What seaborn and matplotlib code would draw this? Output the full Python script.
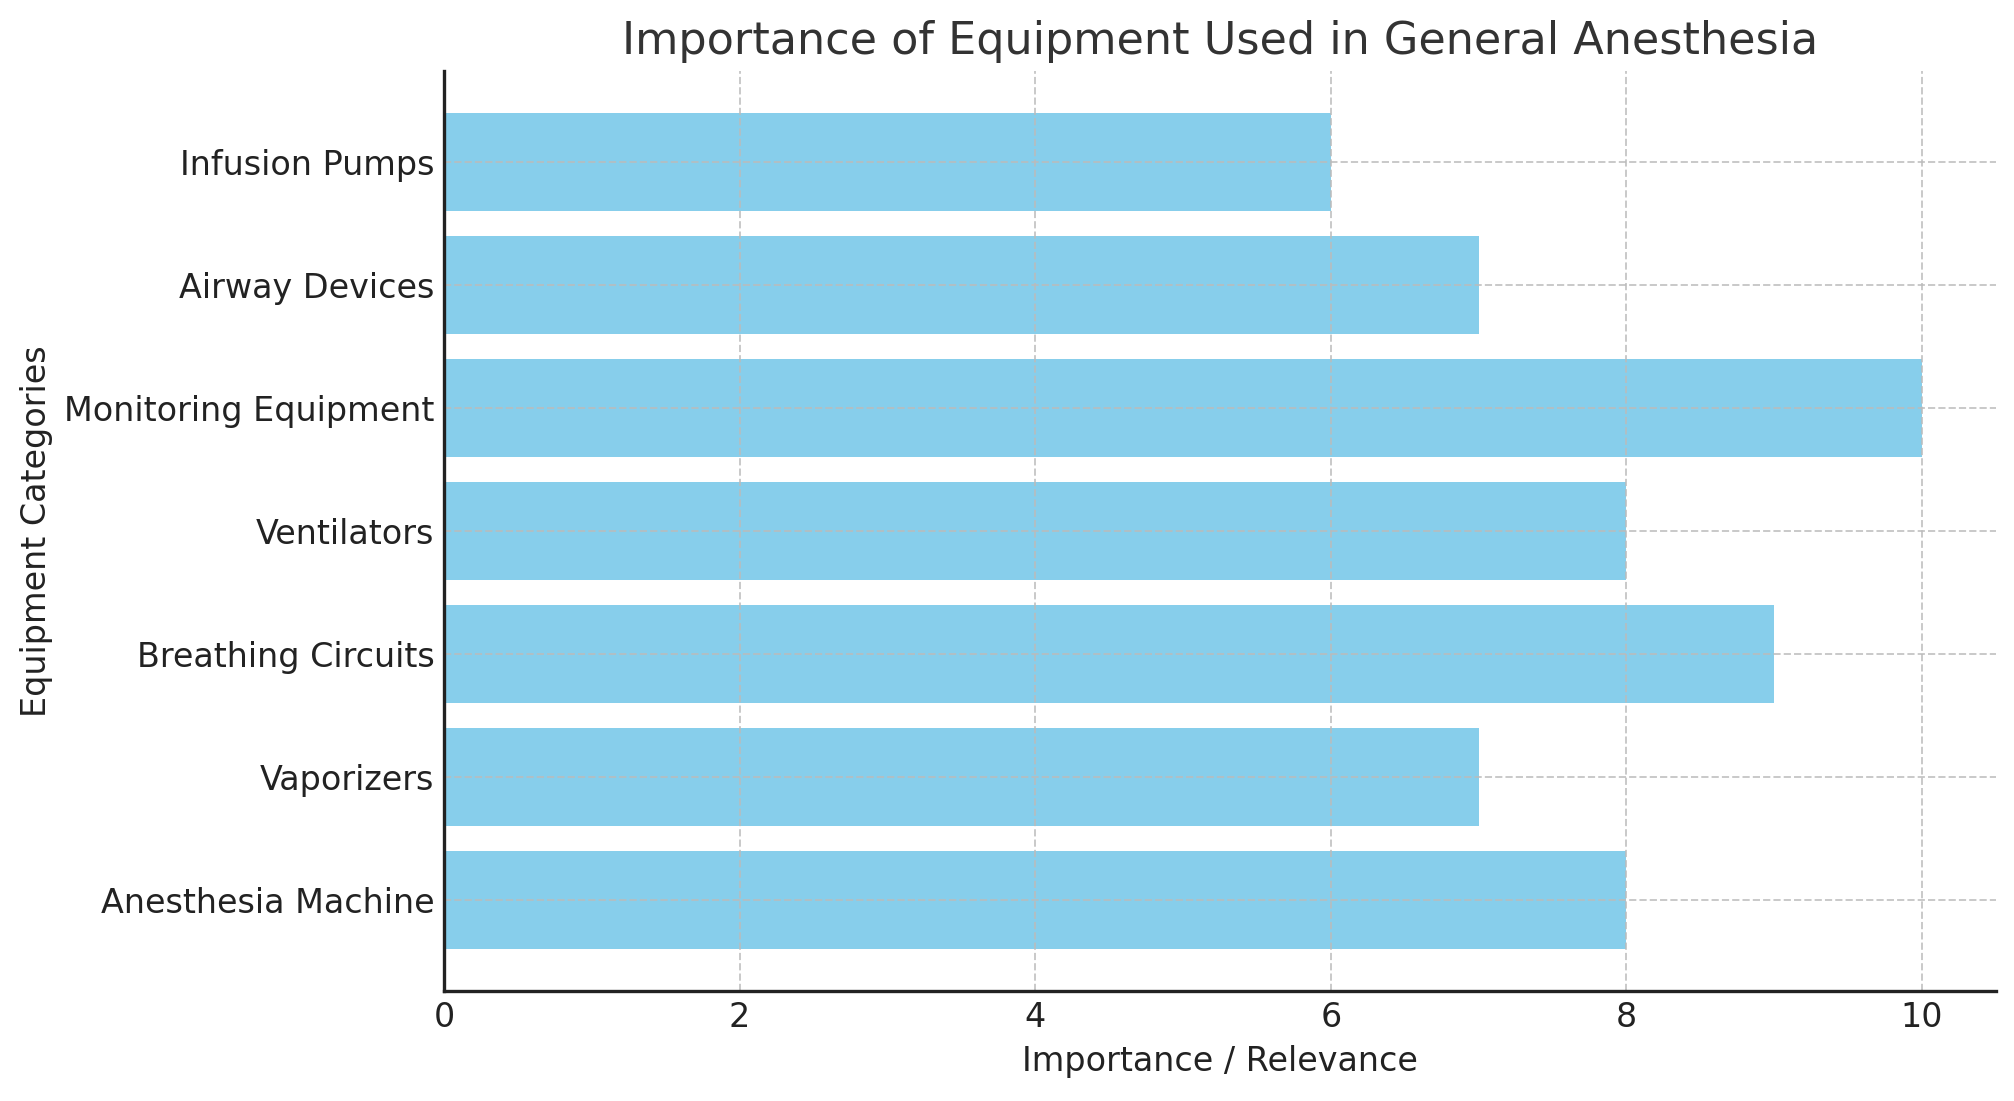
import pandas as pd
import matplotlib
matplotlib.use('Agg')
import matplotlib.pyplot as plt
import seaborn as sns

# Chart data
categories = ['Anesthesia Machine', 'Vaporizers', 'Breathing Circuits', 'Ventilators',
              'Monitoring Equipment', 'Airway Devices', 'Infusion Pumps']
importance = [8, 7, 9, 8, 10, 7, 6]
x_ticks = [0, 2, 4, 6, 8, 10]

df = pd.DataFrame({'Category': categories, 'Importance': importance})

sns.set_style('white')
plt.rcParams['font.family'] = ['DejaVu Sans']

fig = plt.figure(figsize=(10.07, 5.505), dpi=200)
ax = fig.add_axes([0.2205, 0.1, 0.7705, 0.8355])

# seaborn puts the first category on top, so reverse to keep Anesthesia Machine at the bottom
sns.barplot(data=df, x='Importance', y='Category', order=categories[::-1],
            color='skyblue', saturation=1, width=0.8, orient='h', ax=ax,
            linewidth=0, edgecolor='none')

# same padding as matplotlib's default margins
n = len(categories)
pad = 0.05 * (n - 1 + 0.8)
ax.set_ylim(n - 1 + 0.4 + pad, -0.4 - pad)
ax.set_xlim(0, 10.5)
ax.set_xticks(x_ticks)
ax.set_axisbelow(False)
ax.grid(True, linestyle='--', color='#bbbbbb', alpha=0.8, linewidth=0.7)

for s in ['top', 'right']:
    ax.spines[s].set_visible(False)
for s in ['left', 'bottom']:
    ax.spines[s].set_color('#222222')
    ax.spines[s].set_linewidth(1.2)
    ax.spines[s].set_zorder(5)

ax.tick_params(axis='both', direction='in', length=4, width=1.2, color='#222222',
               labelsize=12, labelcolor='#222222')
ax.set_title('Importance of Equipment Used in General Anesthesia', fontsize=16, color='#333333')
ax.set_xlabel('Importance / Relevance', fontsize=12, color='#222222')
ax.set_ylabel('Equipment Categories', fontsize=12, color='#222222')

fig.savefig('out.png', dpi=200)
